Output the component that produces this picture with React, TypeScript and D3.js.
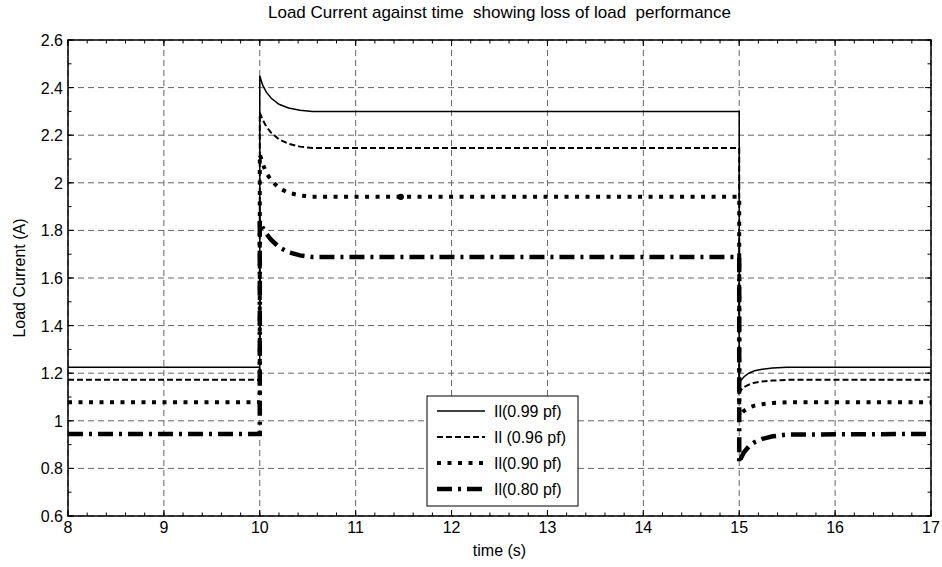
import React from 'react';
import * as d3 from 'd3';

// time samples shared by all four traces (s)
const times = [8, 10, 10, 10.03, 10.07, 10.12, 10.2, 10.3, 10.42, 10.55, 15, 15, 15.02, 15.05, 15.1, 15.16, 15.24, 15.35, 15.5, 17];

const pf099 = [1.225, 1.225, 2.45, 2.41, 2.38, 2.355, 2.33, 2.314, 2.305, 2.3, 2.3, 1.16, 1.17, 1.185, 1.2, 1.21, 1.217, 1.222, 1.225, 1.225];
const pf096 = [1.172, 1.172, 2.295, 2.265, 2.235, 2.21, 2.183, 2.164, 2.152, 2.146, 2.146, 1.12, 1.13, 1.142, 1.152, 1.16, 1.165, 1.169, 1.172, 1.172];
const pf090 = [1.078, 1.078, 2.12, 2.08, 2.04, 2.01, 1.978, 1.958, 1.947, 1.941, 1.941, 1.02, 1.03, 1.042, 1.055, 1.064, 1.07, 1.075, 1.078, 1.078];
const pf080 = [0.945, 0.945, 1.84, 1.812, 1.785, 1.76, 1.73, 1.708, 1.695, 1.688, 1.688, 0.822, 0.845, 0.868, 0.892, 0.91, 0.924, 0.935, 0.942, 0.945];

const seriesLabels = ['Il(0.99 pf)', 'Il (0.96 pf)', 'Il(0.90 pf)', 'Il(0.80 pf)'];
const seriesValues = [pf099, pf096, pf090, pf080];

const xTicks = [8, 9, 10, 11, 12, 13, 14, 15, 16, 17];
const yTicks = [0.6, 0.8, 1, 1.2, 1.4, 1.6, 1.8, 2, 2.2, 2.4, 2.6];

// odd marker sitting on the 0.90 pf trace
const markerPoint = { t: 11.47, v: 1.941 };

const lineStyles = [
  { width: 1.5, dash: 'none' },
  { width: 2, dash: '6,3' },
  { width: 4, dash: '4,6.5' },
  { width: 4.5, dash: '15,6,3,6' },
];

const W = 942;
const H = 567;
const margin = { top: 40, right: 11, bottom: 51, left: 68 };
const font = '"Liberation Sans", Arial, sans-serif';

export default function App() {
  const x = d3.scaleLinear().domain([8, 17]).range([margin.left, W - margin.right]);
  const y = d3.scaleLinear().domain([0.6, 2.6]).range([H - margin.bottom, margin.top]);

  const [x0, x1] = x.range();
  const [y0, y1] = y.range();

  const line = d3.line<number>()
    .x((d, i) => x(times[i]))
    .y(d => y(d));

  const xMinor = d3.range(8, 17.001, 0.2);
  const yMinor = d3.range(0.6, 2.601, 0.1);

  const legend = { left: 427, right: 578, top: 396, bottom: 506, rowH: 26, firstY: 411 };

  return (
    <div style={{ position: 'absolute', left: 0, top: 0 }}>
      <svg width={W} height={H} style={{ display: 'block', background: '#fff' }}>
        <rect width={W} height={H} fill="#fff" />

        {/* grid */}
        <g stroke="#666" strokeWidth={1} strokeDasharray="6,4">
          {xTicks.map(t => (
            <line key={'gx' + t} x1={x(t)} x2={x(t)} y1={y0} y2={y1} />
          ))}
          {yTicks.map(t => (
            <line key={'gy' + t} x1={x0} x2={x1} y1={y(t)} y2={y(t)} />
          ))}
        </g>

        {/* traces */}
        {seriesValues.map((vals, i) => (
          <path
            key={seriesLabels[i]}
            d={line(vals) || ''}
            fill="none"
            stroke="#000"
            strokeWidth={lineStyles[i].width}
            strokeDasharray={lineStyles[i].dash}
          />
        ))}
        <circle cx={x(markerPoint.t)} cy={y(markerPoint.v)} r={3.2} fill="#000" />

        {/* ticks */}
        <g stroke="#000" strokeWidth={1}>
          {xMinor.map(t => (
            <g key={'mx' + t}>
              <line x1={x(t)} x2={x(t)} y1={y0} y2={y0 - 3.5} />
              <line x1={x(t)} x2={x(t)} y1={y1} y2={y1 + 3.5} />
            </g>
          ))}
          {yMinor.map(t => (
            <g key={'my' + t}>
              <line x1={x0} x2={x0 + 3.5} y1={y(t)} y2={y(t)} />
              <line x1={x1} x2={x1 - 3.5} y1={y(t)} y2={y(t)} />
            </g>
          ))}
          {xTicks.map(t => (
            <g key={'Mx' + t}>
              <line x1={x(t)} x2={x(t)} y1={y0} y2={y0 - 6} />
              <line x1={x(t)} x2={x(t)} y1={y1} y2={y1 + 6} />
            </g>
          ))}
          {yTicks.map(t => (
            <g key={'My' + t}>
              <line x1={x0} x2={x0 + 6} y1={y(t)} y2={y(t)} />
              <line x1={x1} x2={x1 - 6} y1={y(t)} y2={y(t)} />
            </g>
          ))}
        </g>

        {/* axes box */}
        <rect x={x0} y={y1} width={x1 - x0} height={y0 - y1} fill="none" stroke="#000" strokeWidth={1.5} />

        {/* tick labels */}
        <g fontFamily={font} fontSize={16} fill="#000">
          {xTicks.map(t => (
            <text key={'lx' + t} x={x(t)} y={y0 + 17} textAnchor="middle">{t}</text>
          ))}
          {yTicks.map(t => (
            <text key={'ly' + t} x={x0 - 5} y={y(t) + 6} textAnchor="end">{String(+t.toFixed(1))}</text>
          ))}
        </g>

        {/* titles */}
        <text x={(x0 + x1) / 2} y={18} textAnchor="middle" fontFamily={font} fontSize={17} style={{ whiteSpace: 'pre' }}>
          {'Load Current against time  showing loss of load  performance'}
        </text>
        <text x={(x0 + x1) / 2} y={556} textAnchor="middle" fontFamily={font} fontSize={16}>time (s)</text>
        <text
          transform={`translate(25,${(y0 + y1) / 2}) rotate(-90)`}
          textAnchor="middle"
          fontFamily={font}
          fontSize={16}
        >
          Load Current (A)
        </text>

        {/* legend */}
        <rect
          x={legend.left}
          y={legend.top}
          width={legend.right - legend.left}
          height={legend.bottom - legend.top}
          fill="#fff"
          stroke="#000"
          strokeWidth={1}
        />
        {seriesLabels.map((lab, i) => {
          const ly = legend.firstY + i * legend.rowH;
          return (
            <g key={'lg' + i}>
              <line
                x1={437}
                x2={485}
                y1={ly}
                y2={ly}
                stroke="#000"
                strokeWidth={lineStyles[i].width}
                strokeDasharray={lineStyles[i].dash}
              />
              <text x={494} y={ly + 6} fontFamily={font} fontSize={16} style={{ whiteSpace: 'pre' }}>{lab}</text>
            </g>
          );
        })}
      </svg>
    </div>
  );
}
